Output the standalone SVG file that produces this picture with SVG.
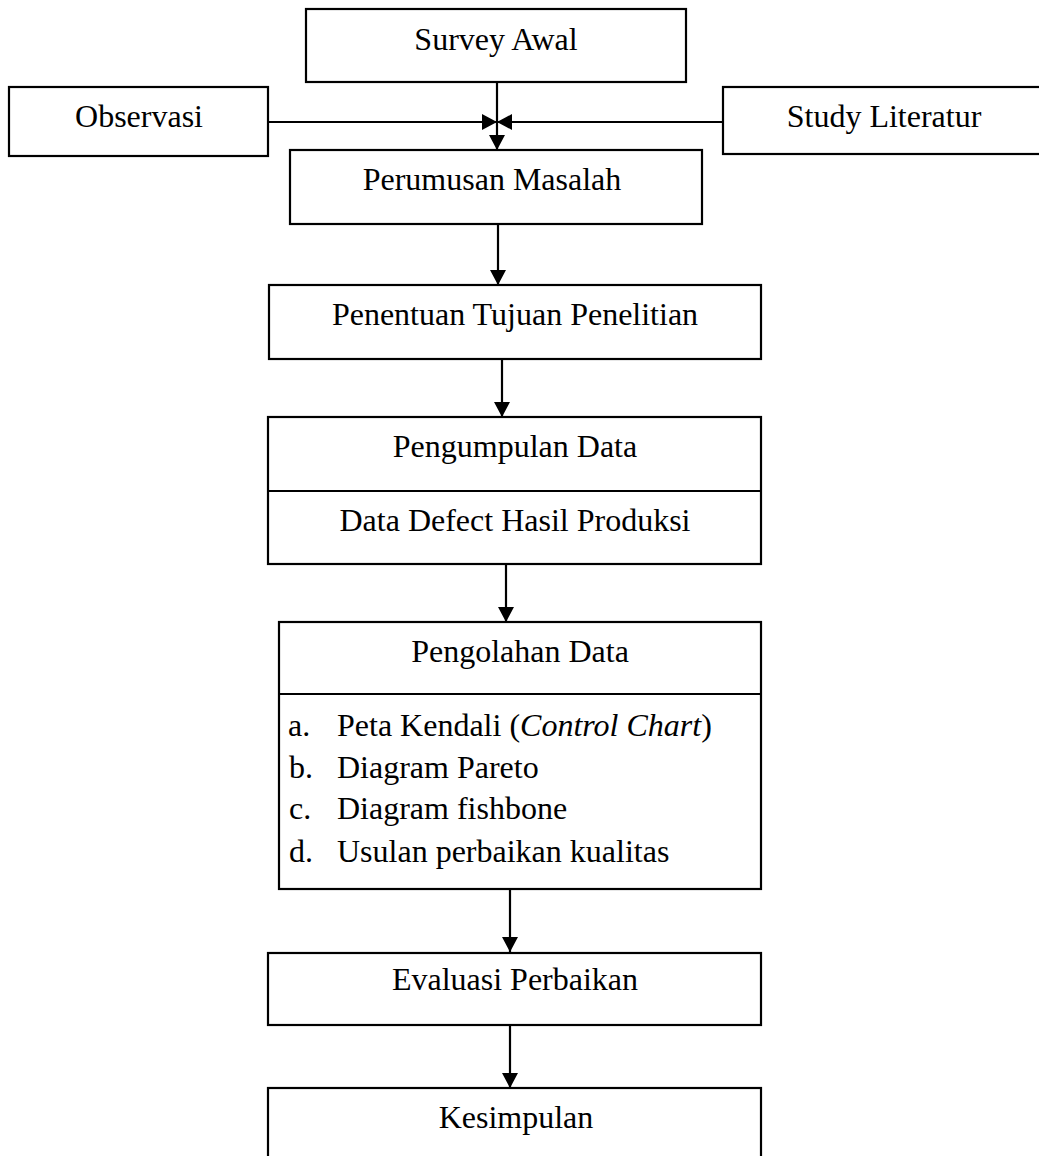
<svg xmlns="http://www.w3.org/2000/svg" width="1039" height="1156" viewBox="0 0 1039 1156">
<style>
.box{fill:#fff;stroke:#000;stroke-width:2.2}
.div{stroke:#000;stroke-width:2.2}
.lbl{font-family:"Liberation Serif","Times New Roman",serif;font-size:32px;fill:#000;text-anchor:middle}
.lst{font-family:"Liberation Serif","Times New Roman",serif;font-size:32px;fill:#000}
.con{stroke:#000;stroke-width:2.2;fill:none;marker-end:url(#ah)}
</style>
<defs>
<marker id="ah" markerUnits="userSpaceOnUse" markerWidth="15" markerHeight="16" refX="15" refY="8" orient="auto">
<path d="M0,0 L15,8 L0,16 Z" fill="#000"/>
</marker>
</defs>
<rect width="1039" height="1156" fill="#fff"/>
<g id="connectors">
<line class="con" x1="497" y1="82" x2="497" y2="150"/>
<line class="con" x1="268" y1="122" x2="497" y2="122"/>
<line class="con" x1="723" y1="122" x2="497" y2="122"/>
<line class="con" x1="498" y1="224" x2="498" y2="285"/>
<line class="con" x1="502" y1="359" x2="502" y2="417"/>
<line class="con" x1="506" y1="564" x2="506" y2="622"/>
<line class="con" x1="510" y1="889" x2="510" y2="952"/>
<line class="con" x1="510" y1="1025" x2="510" y2="1088"/>
</g>
<g id="survey-awal">
<rect class="box" x="306" y="9" width="380" height="73"/>
<text class="lbl" x="496" y="50">Survey Awal</text>
</g>
<g id="observasi">
<rect class="box" x="9" y="87" width="259" height="69"/>
<text class="lbl" x="139" y="127">Observasi</text>
</g>
<g id="study-literatur">
<rect class="box" x="723" y="87" width="324" height="67"/>
<text class="lbl" x="884" y="127">Study Literatur</text>
</g>
<g id="perumusan-masalah">
<rect class="box" x="290" y="150" width="412" height="74"/>
<text class="lbl" x="492" y="190">Perumusan Masalah</text>
</g>
<g id="penentuan-tujuan">
<rect class="box" x="269" y="285" width="492" height="74"/>
<text class="lbl" x="515" y="325">Penentuan Tujuan Penelitian</text>
</g>
<g id="pengumpulan-data">
<rect class="box" x="268" y="417" width="493" height="147"/>
<line class="div" x1="268" y1="491" x2="761" y2="491"/>
<text class="lbl" x="515" y="457">Pengumpulan Data</text>
<text class="lbl" x="515" y="531">Data Defect Hasil Produksi</text>
</g>
<g id="pengolahan-data">
<rect class="box" x="279" y="622" width="482" height="267"/>
<line class="div" x1="279" y1="694" x2="761" y2="694"/>
<text class="lbl" x="520" y="662">Pengolahan Data</text>
<text class="lst" x="288" y="736">a.</text>
<text class="lst" x="337" y="736">Peta Kendali (<tspan font-style="italic">Control Chart</tspan>)</text>
<text class="lst" x="289" y="778">b.</text>
<text class="lst" x="337" y="778">Diagram Pareto</text>
<text class="lst" x="289" y="819">c.</text>
<text class="lst" x="337" y="819">Diagram fishbone</text>
<text class="lst" x="289" y="862">d.</text>
<text class="lst" x="337" y="862">Usulan perbaikan kualitas</text>
</g>
<g id="evaluasi-perbaikan">
<rect class="box" x="268" y="953" width="493" height="72"/>
<text class="lbl" x="515" y="990">Evaluasi Perbaikan</text>
</g>
<g id="kesimpulan">
<rect class="box" x="268" y="1088" width="493" height="80"/>
<text class="lbl" x="516" y="1128">Kesimpulan</text>
</g>
</svg>
